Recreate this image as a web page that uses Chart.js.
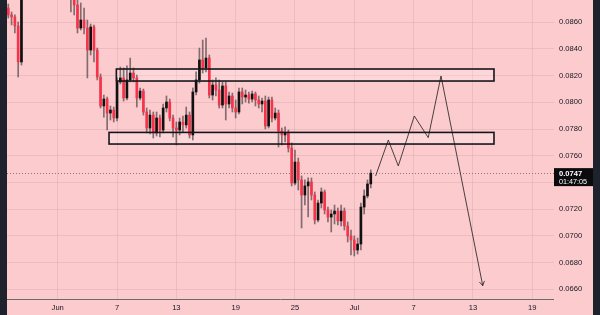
<!DOCTYPE html>
<html><head><meta charset="utf-8">
<script src="https://cdn.jsdelivr.net/npm/chart.js@4.4.1/dist/chart.umd.min.js"></script>
<style>
html,body{margin:0;padding:0;background:#1e222d;width:600px;height:315px;overflow:hidden}
#wrap{position:absolute;left:7px;top:0;width:586px;height:315px;background:#fccbce}
canvas{display:block}
</style></head><body>
<div id="wrap"><canvas id="c" width="586" height="315"></canvas></div>
<script>
// ---- data (day 1 = Jun 1; 8-hour candles starting May 27 00:00) ----
const startDay = -4;
const candleStep = 1/3;
const opens = [
.08707,.08655,.08640,.08572,.08303,.08827,.08954,.09029,.08992,.09104,
.09067,.09179,.09142,.09216,.09142,.09104,.09029,.09067,.08954,.08879,
.08804,.08730,.08557,.08617,.08557,.08392,.08565,.08392,.08190,.07973,
.08025,.07920,.07943,.07883,.08153,.08183,.08033,.08168,.08220,.08183,
.08033,.08085,.07928,.07808,.07905,.07771,.07883,.07793,.07958,.08003,
.07883,.07808,.07793,.07853,.07831,.07905,.07756,.08078,.08168,.08318,
.08258,.08332,.08055,.08130,.08093,.07980,.08123,.07988,.08048,.07958,
.07928,.08078,.08040,.08055,.08025,.08063,.08018,.07988,.08010,.07823,
.08018,.07883,.07920,.07786,.07756,.07771,.07658,.07396,.07553,.07419,
.07306,.07374,.07404,.07306,.07119,.07246,.07329,.07194,.07141,.07164,
.07186,.07112,.07186,.07074,.06999,.06969,.06894,.06939,.07216,.07299,
.07389];
const highs = [
.08737,.08677,.08655,.08602,.08879,.09029,.09142,.09104,.09179,.09216,
.09254,.09291,.09329,.09291,.09216,.09179,.09142,.09104,.08992,.08932,
.08842,.08767,.08745,.08707,.08617,.08587,.08580,.08407,.08213,.08055,
.08040,.07973,.07965,.08183,.08265,.08258,.08273,.08332,.08258,.08205,
.08108,.08100,.07958,.07943,.07928,.07928,.07905,.07988,.08048,.08025,
.07905,.07853,.07883,.07898,.07965,.07928,.08108,.08228,.08407,.08467,
.08482,.08355,.08168,.08183,.08168,.08153,.08153,.08078,.08070,.08018,
.08108,.08108,.08093,.08078,.08085,.08078,.08048,.08033,.08048,.08040,
.08040,.07958,.07943,.07808,.07816,.07793,.07696,.07643,.07583,.07449,
.07419,.07434,.07434,.07329,.07269,.07359,.07344,.07216,.07194,.07231,
.07209,.07231,.07209,.07104,.07044,.06999,.06984,.07246,.07344,.07419,
.07494];
const lows = [
.08632,.08580,.08520,.08190,.08280,.08804,.08917,.08932,.08954,.09029,
.09029,.09104,.09104,.09067,.09052,.08977,.08954,.08902,.08827,.08677,
.08655,.08520,.08542,.08512,.08183,.08355,.08303,.08168,.07958,.07890,
.07793,.07868,.07853,.07861,.08138,.08010,.08018,.08153,.08153,.07965,
.08018,.07905,.07771,.07763,.07733,.07748,.07741,.07771,.07928,.07861,
.07741,.07681,.07756,.07778,.07808,.07733,.07718,.08055,.08145,.08220,
.08228,.08033,.08018,.08048,.07958,.07958,.07868,.07958,.07928,.07883,
.07913,.07988,.08003,.07995,.08003,.07973,.07958,.07928,.07801,.07808,
.07853,.07868,.07666,.07681,.07703,.07628,.07374,.07381,.07344,.07059,
.07231,.07141,.07269,.07089,.07104,.07209,.07164,.07104,.07029,.07089,
.07082,.07074,.07044,.06954,.06857,.06849,.06864,.06894,.07164,.07284,
.07359];
const closes = [
.08655,.08640,.08572,.08303,.08827,.08954,.09029,.08992,.09104,.09067,
.09179,.09142,.09216,.09142,.09104,.09029,.09067,.08954,.08879,.08804,
.08730,.08557,.08617,.08557,.08392,.08565,.08392,.08190,.07973,.08025,
.07920,.07943,.07883,.08153,.08183,.08033,.08168,.08220,.08183,.08033,
.08085,.07928,.07808,.07905,.07771,.07883,.07793,.07958,.08003,.07883,
.07808,.07793,.07853,.07831,.07905,.07756,.08078,.08168,.08318,.08258,
.08332,.08055,.08130,.08093,.07980,.08123,.07988,.08048,.07958,.07928,
.08078,.08040,.08055,.08025,.08063,.08018,.07988,.08010,.07823,.08018,
.07883,.07920,.07786,.07756,.07771,.07658,.07396,.07553,.07419,.07306,
.07374,.07404,.07306,.07119,.07246,.07329,.07194,.07141,.07164,.07186,
.07112,.07186,.07074,.06999,.06969,.06894,.06939,.07216,.07299,.07389,
.07470];

// axis ticks
const xTickDays   = [1, 7, 13, 19, 25, 31, 37, 43, 49];
const xTickLabels = ['Jun', '7', '13', '19', '25', 'Jul', '7', '13', '19'];
const yTicks = [0.066, 0.068, 0.070, 0.072, 0.074, 0.076, 0.078, 0.080, 0.082, 0.084, 0.086];
const xRange = [-4.13, 51.2];
const yRange = [0.06527, 0.08767];

// annotations
const lastPrice = 0.0747;
const countdown = '01:47:05';
const zoneStart = [6.93, 6.19];
const zoneEnd   = [45.13, 45.13];
const zoneHigh  = [0.0825, 0.07775];
const zoneLow   = [0.0816, 0.07688];
const pathDays   = [33.16, 34.44, 35.45, 37.07, 38.48, 39.77, 43.99];
const pathPrices = [0.07449, 0.07718, 0.07524, 0.07898, 0.07736, 0.08198, 0.06627];

// ---- build ----
const days = closes.map((_, i) => startDay + i * candleStep);
const bodyData = days.map((d, i) => ({x: d, y: [opens[i], closes[i]]}));
const wickData = days.map((d, i) => ({x: d, y: [lows[i], highs[i]]}));
const bodyColors = closes.map((c, i) => c >= opens[i] ? '#111111' : '#f7334a');
const pathData = pathDays.map((d, i) => ({x: d, y: pathPrices[i]}));

const FONT = 'Liberation Sans';
const TXT = '#131722';

const annot = {
  id: 'annot',
  beforeDatasetsDraw(chart) {
    const {ctx, chartArea: a, scales: {x, y}} = chart;
    ctx.save();
    ctx.beginPath(); ctx.rect(a.left, a.top, a.right - a.left, a.bottom - a.top); ctx.clip();
    ctx.fillStyle = 'rgba(255,255,255,0.22)';
    zoneStart.forEach((s, i) => {
      const x0 = x.getPixelForValue(s), x1 = x.getPixelForValue(zoneEnd[i]);
      const y0 = y.getPixelForValue(zoneHigh[i]), y1 = y.getPixelForValue(zoneLow[i]);
      ctx.fillRect(x0, y0, x1 - x0, y1 - y0);
    });
    const py = Math.round(y.getPixelForValue(lastPrice)) + 0.5;
    ctx.strokeStyle = 'rgba(140,105,108,0.9)';
    ctx.lineWidth = 1;
    ctx.setLineDash([1, 2]);
    ctx.beginPath(); ctx.moveTo(a.left, py); ctx.lineTo(a.right, py); ctx.stroke();
    ctx.restore();
  },
  afterDatasetsDraw(chart) {
    const {ctx, chartArea: a, scales: {x, y}} = chart;
    ctx.save();
    ctx.beginPath(); ctx.rect(a.left, a.top, a.right - a.left, a.bottom - a.top); ctx.clip();
    ctx.strokeStyle = '#16161a';
    ctx.lineWidth = 1.6;
    zoneStart.forEach((s, i) => {
      const x0 = x.getPixelForValue(s), x1 = x.getPixelForValue(zoneEnd[i]);
      const y0 = y.getPixelForValue(zoneHigh[i]), y1 = y.getPixelForValue(zoneLow[i]);
      ctx.strokeRect(x0, y0, x1 - x0, y1 - y0);
    });
    const n = pathDays.length;
    const tx = x.getPixelForValue(pathDays[n - 1]), ty = y.getPixelForValue(pathPrices[n - 1]);
    const fx = x.getPixelForValue(pathDays[n - 2]), fy = y.getPixelForValue(pathPrices[n - 2]);
    const ang = Math.atan2(ty - fy, tx - fx);
    ctx.strokeStyle = 'rgba(40,40,40,0.85)';
    ctx.lineWidth = 1;
    ctx.beginPath();
    ctx.moveTo(tx + 5 * Math.cos(ang + 2.6), ty + 5 * Math.sin(ang + 2.6));
    ctx.lineTo(tx, ty);
    ctx.lineTo(tx + 5 * Math.cos(ang - 2.6), ty + 5 * Math.sin(ang - 2.6));
    ctx.stroke();
    ctx.restore();
  },
  afterDraw(chart) {
    const {ctx, chartArea: a, scales: {x, y}} = chart;
    ctx.save();
    ctx.strokeStyle = '#6e6a6b';
    ctx.lineWidth = 1;
    ctx.beginPath(); ctx.moveTo(0, a.bottom + 0.5); ctx.lineTo(a.right, a.bottom + 0.5); ctx.stroke();
    const py = y.getPixelForValue(lastPrice);
    ctx.fillStyle = '#0b0b0d';
    ctx.fillRect(a.right, py - 5, 39, 18);
    ctx.fillStyle = '#ffffff';
    ctx.textBaseline = 'middle';
    ctx.textAlign = 'left';
    ctx.font = 'bold 7.6px "' + FONT + '"';
    ctx.fillText(lastPrice.toFixed(4), a.right + 5, py + 0.5);
    ctx.font = '7.2px "' + FONT + '"';
    ctx.fillText(countdown, a.right + 5, py + 8.5);
    ctx.restore();
  }
};

new Chart(document.getElementById('c'), {
  type: 'bar',
  data: {
    datasets: [
      {type: 'line', data: pathData, borderColor: 'rgba(40,40,40,0.85)', borderWidth: 1,
       pointRadius: 0, tension: 0, order: 0, fill: false},
      {type: 'bar', data: bodyData, backgroundColor: bodyColors, barThickness: 2,
       grouped: false, borderWidth: 0, order: 1},
      {type: 'bar', data: wickData, backgroundColor: 'rgba(80,66,70,0.7)', barThickness: 1,
       grouped: false, borderWidth: 0, order: 2}
    ]
  },
  options: {
    responsive: false,
    animation: false,
    devicePixelRatio: 1,
    layout: {padding: 0},
    plugins: {legend: {display: false}, tooltip: {enabled: false}},
    scales: {
      x: {
        type: 'linear', min: xRange[0], max: xRange[1], offset: false,
        afterBuildTicks: s => { s.ticks = xTickDays.map(v => ({value: v})); },
        afterFit: s => { s.height = 16; s.paddingLeft = 0; s.paddingRight = 0; },
        ticks: {
          autoSkip: false, maxRotation: 0, padding: 4,
          color: TXT, font: {family: FONT, size: 7.6},
          callback: v => { const k = xTickDays.indexOf(v); return k >= 0 ? xTickLabels[k] : ''; }
        },
        grid: {color: 'rgba(170,115,120,0.16)', drawTicks: false, offset: false},
        border: {display: false}
      },
      y: {
        type: 'linear', position: 'right', min: yRange[0], max: yRange[1],
        afterBuildTicks: s => { s.ticks = yTicks.map(v => ({value: v})); },
        afterFit: s => { s.width = 39; s.paddingTop = 0; s.paddingBottom = 0; },
        ticks: {
          padding: 5, color: TXT, font: {family: FONT, size: 7.6},
          callback: v => Math.abs(v - lastPrice) < 0.001 ? '' : v.toFixed(4)
        },
        grid: {color: 'rgba(170,115,120,0.16)', drawTicks: false},
        border: {display: false}
      }
    }
  },
  plugins: [annot]
});
</script>
</body></html>
